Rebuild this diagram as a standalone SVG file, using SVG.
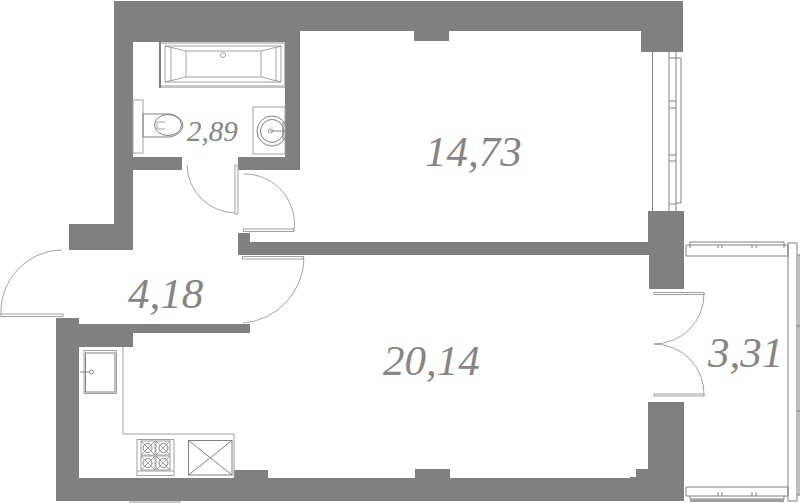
<svg xmlns="http://www.w3.org/2000/svg" width="800" height="503" viewBox="0 0 800 503">
<style>
.w{fill:#808080;stroke:none}
.l{fill:none;stroke:#808080;stroke-width:1}
.t{fill:none;stroke:#8a8a8a;stroke-width:.8}
.g{fill:#fff;stroke:#a0a0a0;stroke-width:1}
.d{fill:none;stroke:#707070;stroke-width:1.2}
text{font-family:"Liberation Serif",serif;font-style:italic;fill:#858585}
</style>
<rect width="800" height="503" fill="#fff"/>
<g id="walls">
<path class="w" d="M114 1H683V52H641V31H449V41H414V31H300V170H238V157H285V42H133V157H182V170H133V250H69V224H114Z"/>
<path class="w" d="M238 233H250V242H648V211H684V289H649V255H238Z"/>
<path class="w" d="M56 318H79V324H250V333H133V347H79V478H234V470H268V478H415V469H450V478H630V477H636V469H648V402H684V501H56Z"/>
<rect x="129" y="501" width="52" height="2" fill="#c8c8c8"/>
</g>
<g id="bath">
<rect class="l" x="160" y="42" width="125" height="45"/>
<path class="t" d="M160 42V87M165 46H281V82H165ZM186 51H261V77H186ZM165 46L186 51M281 46L261 51M165 82L186 77M281 82L261 77M171 47V81M276 47V81"/>
<circle class="t" cx="223" cy="55" r="2.500"/>
<path d="M160 42H285V44H160ZM160 85H285V87H160Z" fill="#c8c8c8"/>
<rect x="159" y="42" width="2" height="46" fill="#808080"/>
</g>
<g id="toilet">
<rect class="g" x="133" y="100" width="10" height="53"/>
<path class="l" d="M143 114H170A18 12 0 0 1 170 137H143Z"/>
<ellipse class="l" cx="168" cy="125" rx="13.500" ry="10.500"/>
<path class="t" d="M165 122H157V129H165"/>
</g>
<g id="sink">
<rect class="g" x="253" y="107" width="32" height="47"/>
<circle class="l" cx="272" cy="131" r="15"/>
<circle class="l" cx="272" cy="131" r="11.500"/>
<circle class="t" cx="270.500" cy="131" r="2.200"/>
<path class="l" d="M270 131H285M283 122V140"/>
</g>
<g id="doors">
<path class="t" d="M187 165A49 49 0 0 0 236 213"/>
<rect class="g" x="235" y="165" width="3" height="49"/>
<path class="t" d="M244 174A50 50 0 0 1 294 231"/>
<rect class="g" x="243.500" y="229" width="50" height="2.500"/>
<rect class="g" x="242.500" y="256.500" width="61" height="2.500"/>
<path class="t" d="M304 258A66 66 0 0 1 243 323"/>
<path class="t" d="M62 250A62 62 0 0 0 1 315"/>
<rect class="g" x="1" y="314" width="62" height="2.500"/>
<rect class="g" x="654" y="292.500" width="50" height="2"/>
<path class="t" d="M704 293A50 50 0 0 1 654 344A50 50 0 0 1 704 396"/>
<rect class="g" x="654" y="394" width="50" height="2"/>
</g>
<g id="window">
<path class="l" d="M652.500 52V211M669 52V211M676 52V211M669 101H676M669 108H676M669 155H676M669 161H676M669 58H676M669 204H676"/>
<path class="l" d="M676 58H681V203H676"/>
</g>
<g id="balcony">
<path class="l" d="M686 245H788V256H686ZM690 245V242H784V245M718 245V248M722 245V248M752 245V248M756 245V248M690 245V248M784 245V248M788 243H797V501H788V243"/>
<path class="l" d="M797 255H800M797 495H800M796 326H800M796 411H800M799 255V495"/>
<path class="l" d="M686 487H788V496H686ZM690 496V499H784V496M718 496V492M722 496V492M752 496V492M756 496V492"/>
<rect x="690" y="499" width="94" height="3" fill="#a0a0a0"/>
</g>
<g id="kitchen">
<path class="g" d="M123 347V434H234V478" style="fill:none"/>
<rect class="g" x="84" y="350.500" width="32.500" height="43"/>
<rect class="l" x="85.500" y="353" width="29.500" height="39"/>
<circle class="l" cx="91.500" cy="372" r="2"/>
<path class="l" d="M80 372H89"/>
<rect class="g" x="137" y="439.500" width="37" height="36"/>
<path class="t" d="M137 471H174"/>
<rect class="t" x="141" y="441" width="14" height="14"/><rect class="t" x="156" y="441" width="14" height="14"/><rect class="t" x="141" y="456" width="14" height="14"/><rect class="t" x="156" y="456" width="14" height="14"/>
<circle class="l" cx="147.500" cy="448" r="4.500"/><circle class="l" cx="163.500" cy="448" r="4.500"/><circle class="l" cx="147.500" cy="463" r="4.500"/><circle class="l" cx="163.500" cy="463" r="4.500"/>
<path class="t" d="M141 441L155 455M155 441L141 455M156 441L170 455M170 441L156 455M141 456L155 470M155 456L141 470M156 456L170 470M170 456L156 470"/>
<rect class="l" x="188.500" y="440.500" width="43.500" height="34.500"/>
<path class="l" d="M188.500 440.500L232 475M232 440.500L188.500 475"/>
</g>
<g id="labels">
<text x="425" y="166" font-size="43">14,73</text>
<text x="383" y="375" font-size="43">20,14</text>
<text x="128" y="308" font-size="43">4,18</text>
<text x="708" y="367" font-size="43">3,31</text>
<text x="187" y="141" font-size="29">2,89</text>
</g>
</svg>
